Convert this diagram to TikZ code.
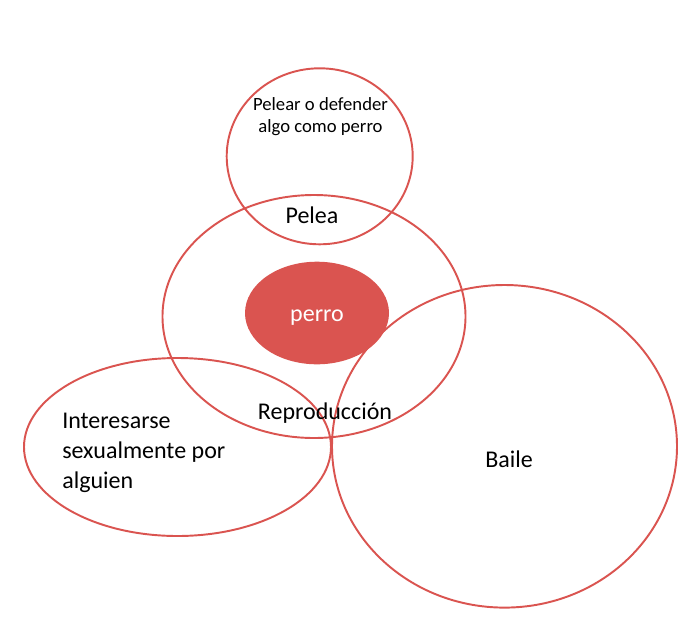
\documentclass[tikz,border=0pt]{standalone}
\usepackage{fontspec}
\setmainfont{Carlito}
\usetikzlibrary{shapes.geometric}
\definecolor{redline}{RGB}{218,84,80}
\begin{document}
\begin{tikzpicture}[x=0.75pt,y=-0.75pt,
  ring/.style={ellipse,draw=redline,line width=1.45pt,inner sep=0pt,fill=none},
  lbl/.style={inner sep=0pt,font=\fontsize{18}{22.5}\selectfont,text=black},
  smalllbl/.style={inner sep=0pt,font=\fontsize{14}{16.5}\selectfont,align=center,text=black}]
\useasboundingbox (0,0) rectangle (697,626);
% shapes
\node[ring,minimum width=186*0.75pt,minimum height=176*0.75pt] (top) at (319.7,156.3) {};
\node[ring,minimum width=303*0.75pt,minimum height=243*0.75pt] (mid) at (314,316.5) {};
\node[ellipse,fill=redline,draw=none,inner sep=0pt,minimum width=144*0.75pt,minimum height=102.6*0.75pt] (perro) at (317,313) {};
\node[ring,minimum width=307*0.75pt,minimum height=178*0.75pt] (left) at (177.5,447) {};
\node[ring,minimum width=345*0.75pt,minimum height=322.6*0.75pt] (baile) at (504.5,446.3) {};
% texts
\node[smalllbl] (t1) at (320.5,117) {Pelear o defender\\algo como perro};
\node[lbl] (t2) at (312,215) {Pelea};
\node[lbl,text=white] (t3) at (317,318) {perro};
\node[lbl] (t4) at (325,413) {Reproducción};
\node[lbl] (t5) at (509,459) {Baile};
\node[lbl,align=left,anchor=west] (t6) at (62,453) {Interesarse\\sexualmente por\\alguien};
\end{tikzpicture}
\end{document}
